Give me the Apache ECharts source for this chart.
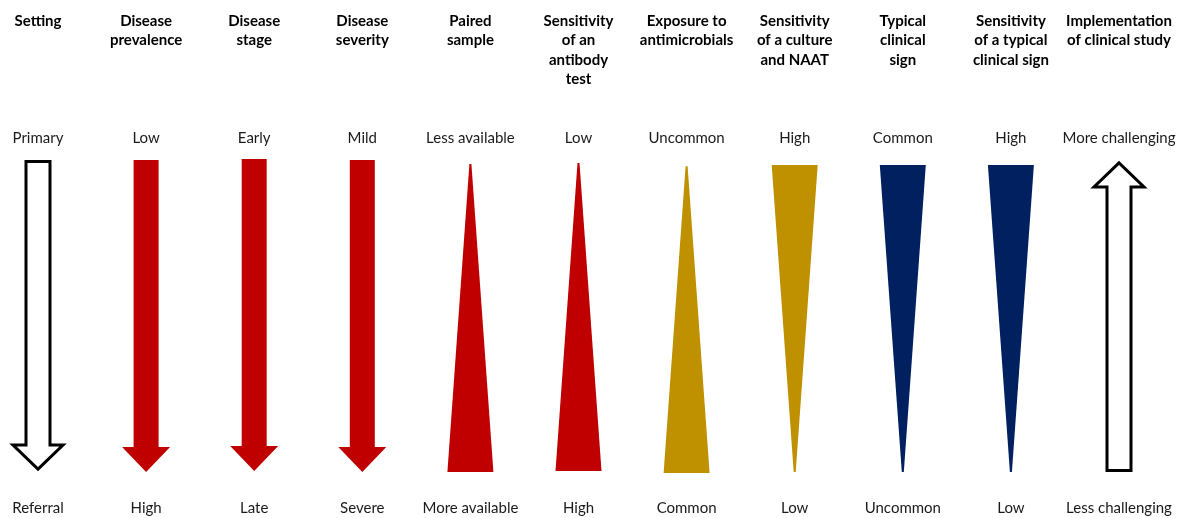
<!DOCTYPE html>
<html><head><meta charset="utf-8">
<script src="https://cdn.jsdelivr.net/npm/echarts@6/dist/echarts.min.js"></script>
<style>html,body{margin:0;padding:0;background:#fff}#c{width:1187px;height:518px}</style>
</head><body><div id="c"></div>
<script>
// ---- data ----
const headers = ['Setting','Disease\nprevalence','Disease\nstage','Disease\nseverity','Paired\nsample','Sensitivity\nof an\nantibody\ntest','Exposure to\nantimicrobials','Sensitivity\nof a culture\nand NAAT','Typical\nclinical\nsign','Sensitivity\nof a typical\nclinical sign','Implementation\nof clinical study'];
const topLabels = ['Primary','Low','Early','Mild','Less available','Low','Uncommon','High','Common','High','More challenging'];
const bottomLabels = ['Referral','High','Late','Severe','More available','High','Common','Low','Uncommon','Low','Less challenging'];
const shapes = ['hollowDown','arrowDown','arrowDown','arrowDown','wedgeUp','wedgeUp','wedgeUp','wedgeDown','wedgeDown','wedgeDown','hollowUp'];
const spanTop = [100,100,100.3,100,98.7,99,98,98.4,98.4,98.4,99.7];
const spanBottom = [0.3,0,0.3,0,0,0.3,-0.3,0,0,0,0];
const colorGroup = ['outline','red','red','red','red','red','gold','gold','navy','navy','outline'];

// ---- styles ----
const palette = {red:'#C00000', gold:'#BF9000', navy:'#002060'};
const FONT = 'Lato, "Open Sans", sans-serif';

function renderItem(params, api){
  const i = params.dataIndex;
  const t = api.coord([api.value(0), api.value(1)]);
  const b = api.coord([api.value(0), api.value(2)]);
  const cx = t[0], y0 = t[1], y1 = b[1];
  const kind = shapes[i];
  let pts, style;
  if (kind === 'arrowDown'){
    const sh = 12.5, hh = 24, hl = 25;
    pts = [[cx-sh,y0],[cx+sh,y0],[cx+sh,y1-hl],[cx+hh,y1-hl],[cx,y1],[cx-hh,y1-hl],[cx-sh,y1-hl]];
    style = {fill: palette[colorGroup[i]]};
  } else if (kind === 'hollowDown'){
    const sh = 12, hh = 25, hl = 24;
    const a = y0+1.5, z = y1-2;
    pts = [[cx-sh,a],[cx+sh,a],[cx+sh,z-hl],[cx+hh,z-hl],[cx,z],[cx-hh,z-hl],[cx-sh,z-hl]];
    style = {fill:'#fff', stroke:'#000', lineWidth:3, lineJoin:'miter'};
  } else if (kind === 'hollowUp'){
    const sh = 12, hh = 25, hl = 24;
    const a = y0+2, z = y1-1.5;
    pts = [[cx,a],[cx+hh,a+hl],[cx+sh,a+hl],[cx+sh,z],[cx-sh,z],[cx-sh,a+hl],[cx-hh,a+hl]];
    style = {fill:'#fff', stroke:'#000', lineWidth:3, lineJoin:'miter'};
  } else if (kind === 'wedgeUp'){
    pts = [[cx-1,y0],[cx+1,y0],[cx+23,y1],[cx-23,y1]];
    style = {fill: palette[colorGroup[i]]};
  } else {
    pts = [[cx-23,y0],[cx+23,y0],[cx+1,y1],[cx-1,y1]];
    style = {fill: palette[colorGroup[i]]};
  }
  return {type:'polygon', shape:{points:pts}, style:style};
}

const hiddenAxis = {axisLine:{show:false}, axisTick:{show:false}, splitLine:{show:false}};
const chart = echarts.init(document.getElementById('c'), null, {renderer:'canvas'});
chart.setOption({
  animation:false,
  backgroundColor:'#fff',
  grid:{left:38, right:68, top:160, bottom:46},
  xAxis:[
    Object.assign({type:'category', data:bottomLabels, position:'bottom', boundaryGap:false,
      axisLabel:{interval:0, margin:29, fontSize:15, fontFamily:FONT, color:'#1a1a1a'}}, hiddenAxis),
    Object.assign({type:'category', data:topLabels, position:'top', boundaryGap:false,
      axisLabel:{interval:0, margin:14, fontSize:15, fontFamily:FONT, color:'#1a1a1a'}}, hiddenAxis),
    Object.assign({type:'category', data:headers, position:'top', offset:140, boundaryGap:false,
      axisLabel:{interval:0, margin:9, verticalAlign:'top', fontSize:15, lineHeight:19.5, fontWeight:'bold', fontFamily:FONT, color:'#000', align:'center'}}, hiddenAxis)
  ],
  yAxis:{type:'value', min:0, max:100, show:false},
  series:[{
    type:'custom',
    xAxisIndex:0, yAxisIndex:0,
    renderItem:renderItem,
    encode:{x:0, y:[1,2]},
    data: shapes.map((s,i)=>[i, spanTop[i], spanBottom[i]])
  }]
});
</script></body></html>
